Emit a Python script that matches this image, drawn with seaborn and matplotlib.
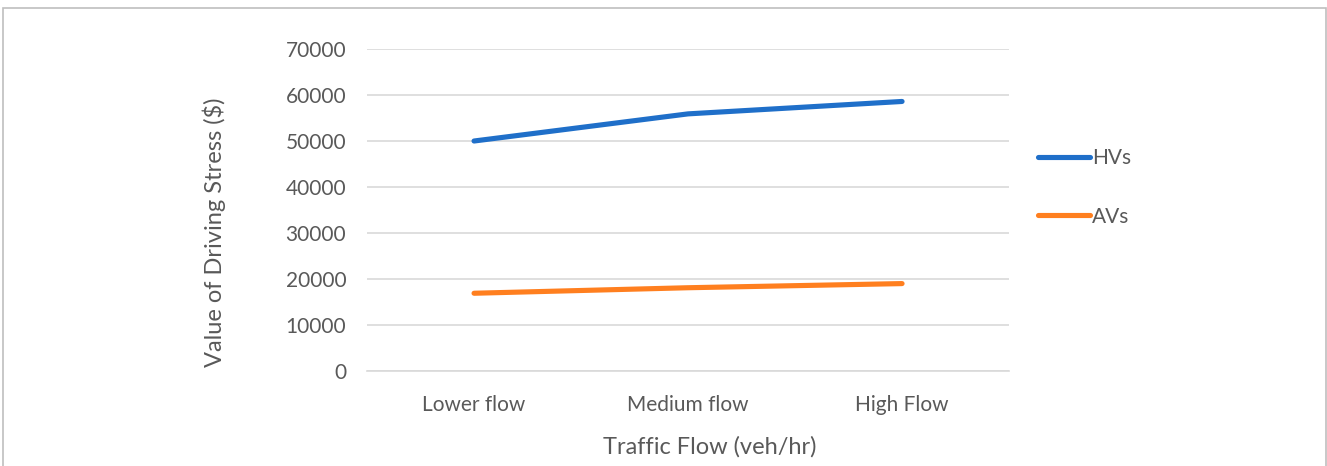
import matplotlib
matplotlib.use("Agg")
import matplotlib.pyplot as plt
import seaborn as sns
import pandas as pd
from matplotlib.patches import Rectangle
from matplotlib.lines import Line2D

categories = ["Lower flow", "Medium flow", "High Flow"]
hvs = [50000, 55900, 58600]
avs = [16900, 18100, 19000]
series_names = ["HVs", "AVs"]
yticks = [0, 10000, 20000, 30000, 40000, 50000, 60000, 70000]

sns.set_theme(style="white")
plt.rcParams['font.family'] = ['Lato', 'DejaVu Sans']
text_color = "#595959"
colors = ["#1f6fc9", "#ff7f1f"]
lw = 3.7

df = pd.DataFrame({
    "Traffic": categories * 2,
    "Value": hvs + avs,
    "Series": [series_names[0]] * 3 + [series_names[1]] * 3,
})

fig = plt.figure(figsize=(13.27, 4.66), dpi=100)
ax = fig.add_axes([0.2766, 0.2039, 0.4838, 0.6909])

sns.lineplot(data=df, x="Traffic", y="Value", hue="Series",
             palette=colors, linewidth=lw,
             sort=False, ax=ax, legend=False, solid_capstyle="round")

ax.set_xlim(-0.5, 2.5)
ax.set_ylim(0, 70000)
ax.set_yticks(yticks)
ax.set_yticklabels([str(v) for v in yticks])
ax.grid(axis="y", color="#d9d9d9", linewidth=1.2)
ax.set_axisbelow(True)
for s in ["top", "right", "left"]:
    ax.spines[s].set_visible(False)
ax.spines["bottom"].set_color("#d9d9d9")
ax.spines["bottom"].set_linewidth(1.2)
ax.tick_params(axis="both", length=0, labelsize=15, colors=text_color)
ax.tick_params(axis="y", pad=15)
ax.tick_params(axis="x", pad=17)
ax.set_xlabel("Traffic Flow (veh/hr)", fontsize=17, color=text_color)
ax.set_ylabel("Value of Driving Stress ($)", fontsize=17, color=text_color)
ax.xaxis.set_label_coords(0.534, -0.202)
ax.yaxis.set_label_coords(-0.22, 0.43)

handles = [Line2D([0], [0], color=c, lw=lw, solid_capstyle="round") for c in colors]
leg = fig.legend(handles, series_names, loc="center left",
                 bbox_to_anchor=(0.768, 0.598), frameon=False,
                 fontsize=15, labelspacing=1.85, handlelength=2.5,
                 handletextpad=0.1, labelcolor=text_color)

fig.patches.append(Rectangle((0.0023, -0.05), 0.9970, 1.033, transform=fig.transFigure,
                             fill=False, edgecolor="#bfbfbf", linewidth=1.2))
fig.savefig("out.png", dpi=100, facecolor="white")
